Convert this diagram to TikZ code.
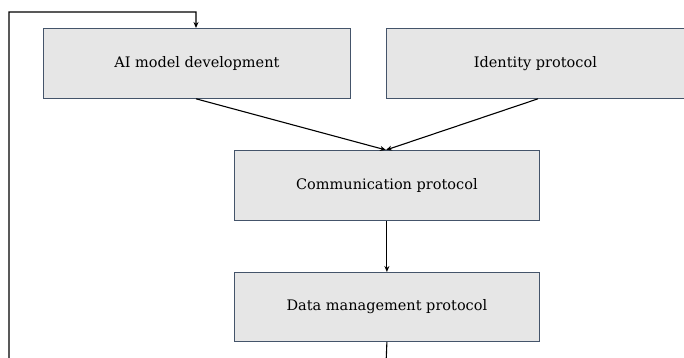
\documentclass[tikz,border=0pt]{standalone}
\usepackage{fontspec}
\setmainfont{DejaVu Serif}
\usetikzlibrary{arrows.meta}
\definecolor{boxfill}{HTML}{E6E6E6}
\definecolor{boxline}{HTML}{44546A}
\tikzset{
  stepbox/.style={draw=boxline, fill=boxfill, line width=0.8pt, minimum width=307pt, minimum height=70pt, inner sep=0pt, font=\fontsize{14.5}{16}\selectfont, anchor=north west},
  conn/.style={draw=black, line width=1.1pt, -{Stealth[length=6pt,width=5pt]}}
}
\begin{document}
\begin{tikzpicture}[x=1pt,y=-1pt]
\useasboundingbox (0,0) rectangle (684,358);
\node[stepbox] (ai) at (43,28) {AI model development};
\node[stepbox, minimum width=298pt] (id) at (386,28) {Identity protocol};
\node[stepbox, minimum width=305pt] (comm) at (234,150) {Communication protocol};
\node[stepbox, minimum width=305pt, minimum height=69pt] (data) at (234,272) {Data management protocol};
\coordinate (t) at (386,150);
\draw[conn] (ai.south west) ++(153,0) coordinate (aib) -- (t);
\draw[conn] (id.south west) ++(152,0) coordinate (idb) -- (t);
\draw[conn] (comm.south) -- (data.north);
\coordinate (c1) at (386,365);
\coordinate (c2) at (9,365);
\coordinate (c3) at (9,12);
\coordinate (c4) at (196,12);
\draw[conn] (data.south) -- (c1) -- (c2) -- (c3) -- (c4) -- (ai.north west -| c4);
\end{tikzpicture}
\end{document}
